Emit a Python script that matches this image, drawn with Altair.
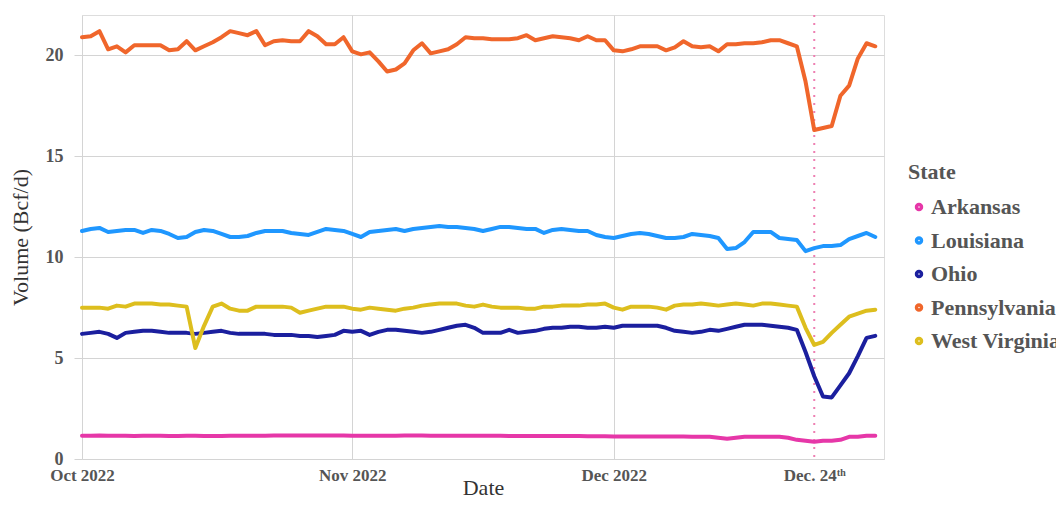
import altair as alt
import pandas as pd

# ---- data (daily, Oct 1 2022 .. Dec 31 2022) ----
start_date = "2022-10-01"
end_date = "2022-12-31"

states = ["Arkansas", "Louisiana", "Ohio", "Pennsylvania", "West Virginia"]
colors = ["#E637A8", "#1F97FF", "#1B1F9E", "#F0662B", "#DDBE1E"]

arkansas = [
    1.15, 1.15, 1.16, 1.15, 1.15, 1.15, 1.14, 1.15, 1.15, 1.15,
    1.14, 1.14, 1.15, 1.15, 1.14, 1.14, 1.14, 1.15, 1.15, 1.15,
    1.15, 1.15, 1.16, 1.16, 1.16, 1.16, 1.16, 1.16, 1.16, 1.16,
    1.16, 1.15, 1.15, 1.15, 1.15, 1.15, 1.15, 1.16, 1.16, 1.16,
    1.15, 1.15, 1.15, 1.15, 1.15, 1.15, 1.15, 1.15, 1.15, 1.14,
    1.14, 1.14, 1.14, 1.14, 1.14, 1.14, 1.14, 1.14, 1.13, 1.13,
    1.13, 1.12, 1.12, 1.12, 1.12, 1.12, 1.12, 1.12, 1.11, 1.11,
    1.10, 1.10, 1.10, 1.05, 1.00, 1.05, 1.10, 1.10, 1.10, 1.10,
    1.10, 1.05, 0.95, 0.90, 0.85, 0.90, 0.90, 0.95, 1.10, 1.10,
    1.15, 1.15,
]
louisiana = [
    11.30, 11.40, 11.45, 11.25, 11.30, 11.35, 11.35, 11.20, 11.35, 11.30,
    11.15, 10.95, 11.00, 11.25, 11.35, 11.30, 11.15, 11.00, 11.00, 11.05,
    11.20, 11.30, 11.30, 11.30, 11.20, 11.15, 11.10, 11.25, 11.40, 11.35,
    11.30, 11.15, 11.00, 11.25, 11.30, 11.35, 11.40, 11.30, 11.40, 11.45,
    11.50, 11.55, 11.50, 11.50, 11.45, 11.40, 11.30, 11.40, 11.50, 11.50,
    11.45, 11.40, 11.40, 11.20, 11.35, 11.40, 11.35, 11.30, 11.30, 11.10,
    11.00, 10.95, 11.05, 11.15, 11.20, 11.15, 11.05, 10.95, 10.95, 11.00,
    11.15, 11.10, 11.05, 10.95, 10.40, 10.45, 10.75, 11.25, 11.25, 11.25,
    10.95, 10.90, 10.85, 10.30, 10.45, 10.55, 10.55, 10.60, 10.90, 11.05,
    11.20, 11.00,
]
ohio = [
    6.20, 6.25, 6.30, 6.20, 6.00, 6.25, 6.30, 6.35, 6.35, 6.30,
    6.25, 6.25, 6.25, 6.20, 6.25, 6.30, 6.35, 6.25, 6.20, 6.20,
    6.20, 6.20, 6.15, 6.15, 6.15, 6.10, 6.10, 6.05, 6.10, 6.15,
    6.35, 6.30, 6.35, 6.15, 6.30, 6.40, 6.40, 6.35, 6.30, 6.25,
    6.30, 6.40, 6.50, 6.60, 6.65, 6.50, 6.25, 6.25, 6.25, 6.40,
    6.25, 6.30, 6.35, 6.45, 6.50, 6.50, 6.55, 6.55, 6.50, 6.50,
    6.55, 6.50, 6.60, 6.60, 6.60, 6.60, 6.60, 6.50, 6.35, 6.30,
    6.25, 6.30, 6.40, 6.35, 6.45, 6.55, 6.65, 6.65, 6.65, 6.60,
    6.55, 6.50, 6.40, 5.30, 4.10, 3.10, 3.05, 3.65, 4.25, 5.10,
    6.00, 6.10,
]
pennsylvania = [
    20.90, 20.95, 21.20, 20.30, 20.45, 20.15, 20.50, 20.50, 20.50, 20.50,
    20.25, 20.30, 20.70, 20.25, 20.45, 20.65, 20.90, 21.20, 21.10, 21.00,
    21.20, 20.50, 20.70, 20.75, 20.70, 20.70, 21.20, 20.95, 20.55, 20.55,
    20.90, 20.20, 20.05, 20.15, 19.70, 19.20, 19.30, 19.60, 20.25, 20.60,
    20.10, 20.20, 20.30, 20.55, 20.90, 20.85, 20.85, 20.80, 20.80, 20.80,
    20.85, 21.00, 20.75, 20.85, 20.95, 20.90, 20.85, 20.75, 20.95, 20.75,
    20.75, 20.25, 20.20, 20.30, 20.45, 20.45, 20.45, 20.25, 20.40, 20.70,
    20.45, 20.40, 20.45, 20.20, 20.55, 20.55, 20.60, 20.60, 20.65, 20.75,
    20.75, 20.60, 20.45, 18.70, 16.30, 16.40, 16.50, 18.00, 18.50, 19.85,
    20.60, 20.45,
]
west_virginia = [
    7.50, 7.50, 7.50, 7.45, 7.60, 7.55, 7.70, 7.70, 7.70, 7.65,
    7.65, 7.60, 7.55, 5.50, 6.60, 7.55, 7.70, 7.45, 7.35, 7.35,
    7.55, 7.55, 7.55, 7.55, 7.50, 7.25, 7.35, 7.45, 7.55, 7.55,
    7.55, 7.45, 7.40, 7.50, 7.45, 7.40, 7.35, 7.45, 7.50, 7.60,
    7.65, 7.70, 7.70, 7.70, 7.60, 7.55, 7.65, 7.55, 7.50, 7.50,
    7.50, 7.45, 7.45, 7.55, 7.55, 7.60, 7.60, 7.60, 7.65, 7.65,
    7.70, 7.50, 7.40, 7.55, 7.55, 7.55, 7.50, 7.40, 7.60, 7.65,
    7.65, 7.70, 7.65, 7.60, 7.65, 7.70, 7.65, 7.60, 7.70, 7.70,
    7.65, 7.60, 7.55, 6.50, 5.65, 5.80, 6.25, 6.65, 7.05, 7.20,
    7.35, 7.40,
]
series = [arkansas, louisiana, ohio, pennsylvania, west_virginia]

# x tick positions and their labels
tick_dates = [(2022, 10, 1), (2022, 11, 1), (2022, 12, 1), (2022, 12, 24)]
tick_labels = ["Oct 2022", "Nov 2022", "Dec 2022", "Dec. 24\u1d57\u02b0"]
y_ticks = [0, 5, 10, 15, 20]
annotation_dates = ["2022-12-24"]

# ---- build tables ----
dates = pd.date_range(start_date, end_date, freq="D")
rows = []
for name, vals in zip(states, series):
    for d, v in zip(dates, vals):
        rows.append({"Date": d.strftime("%Y-%m-%d"), "State": name, "Volume": v})
df = pd.DataFrame(rows)
ann = pd.DataFrame({"Date": annotation_dates})

# label expression built from tick lists
expr = "''"
for (yy, mm, dd), lab in reversed(list(zip(tick_dates, tick_labels))):
    expr = (f"(utcmonth(datum.value)=={mm-1} && utcdate(datum.value)=={dd}) "
            f"? '{lab}' : {expr}")

SERIF = "Liberation Serif"
GRID = "#d4d4d4"
LABEL = "#555555"

x_enc = alt.X(
    "Date:T",
    scale=alt.Scale(
        type="utc",
        domain=[alt.DateTime(year=2022, month=10, date=1, utc=True),
                alt.DateTime(year=2023, month=1, date=1, utc=True)],
    ),
    axis=alt.Axis(
        values=[alt.DateTime(year=y, month=m, date=d, utc=True) for (y, m, d) in tick_dates],
        labelExpr=expr,
        grid=True,
        gridColor=GRID,
        gridOpacity={"condition": {"test": "utcdate(datum.value)==24", "value": 0}, "value": 1},
        ticks=False,
        domain=False,
        labelFlush=False,
        labelOverlap=False,
        labelFont=SERIF,
        labelFontSize=17,
        labelFontWeight="bold",
        labelColor=LABEL,
        labelPadding=8,
        title="Date",
        titleFont=SERIF,
        titleFontSize=22,
        titleFontWeight="normal",
        titleColor="#333333",
        titleBaseline="alphabetic",
        titleY=35,
    ),
)

lines = alt.Chart(df).mark_line(strokeWidth=4, strokeJoin="round", strokeCap="round").encode(
    x=x_enc,
    y=alt.Y(
        "Volume:Q",
        scale=alt.Scale(domain=[0, 22], nice=False, zero=True),
        axis=alt.Axis(
            values=y_ticks,
            grid=True,
            gridColor=GRID,
            tickColor=GRID,
            tickSize=8,
            domain=False,
            labelFont=SERIF,
            labelFontSize=18,
            labelFontWeight="bold",
            labelColor=LABEL,
            labelPadding=11,
            title="Volume (Bcf/d)",
            titleFont=SERIF,
            titleFontSize=22,
            titleFontWeight="normal",
            titleColor="#333333",
            titleX=-50,
            titleY=222,
        ),
    ),
    color=alt.Color(
        "State:N",
        scale=alt.Scale(domain=states, range=colors),
        legend=alt.Legend(
            orient="none",
            legendX=826,
            legendY=147,
            title="State",
            titleFont=SERIF,
            titleFontSize=22,
            titleFontWeight="bold",
            titleColor=LABEL,
            titlePadding=12,
            labelFont=SERIF,
            labelFontSize=22,
            labelFontWeight="bold",
            labelColor=LABEL,
            labelOffset=1,
            symbolType="circle",
            symbolSize=12,
            symbolStrokeWidth=5,
            rowPadding=9.5,
            padding=0,
        ),
    ),
)

rule = alt.Chart(ann).mark_rule(color="#EE7FB2", strokeWidth=2, strokeDash=[2, 6]).encode(
    x="Date:T"
)

chart = (
    alt.layer(rule, lines)
    .properties(
        width=802,
        height=444,
        autosize=alt.AutoSizeParams(type="none"),
        padding={"left": 74, "top": 7, "right": 172, "bottom": 39},
    )
    .configure_view(stroke=None)
    .configure(background="white")
)

chart.save("out.html", embed_options={"renderer": "svg", "actions": False})
